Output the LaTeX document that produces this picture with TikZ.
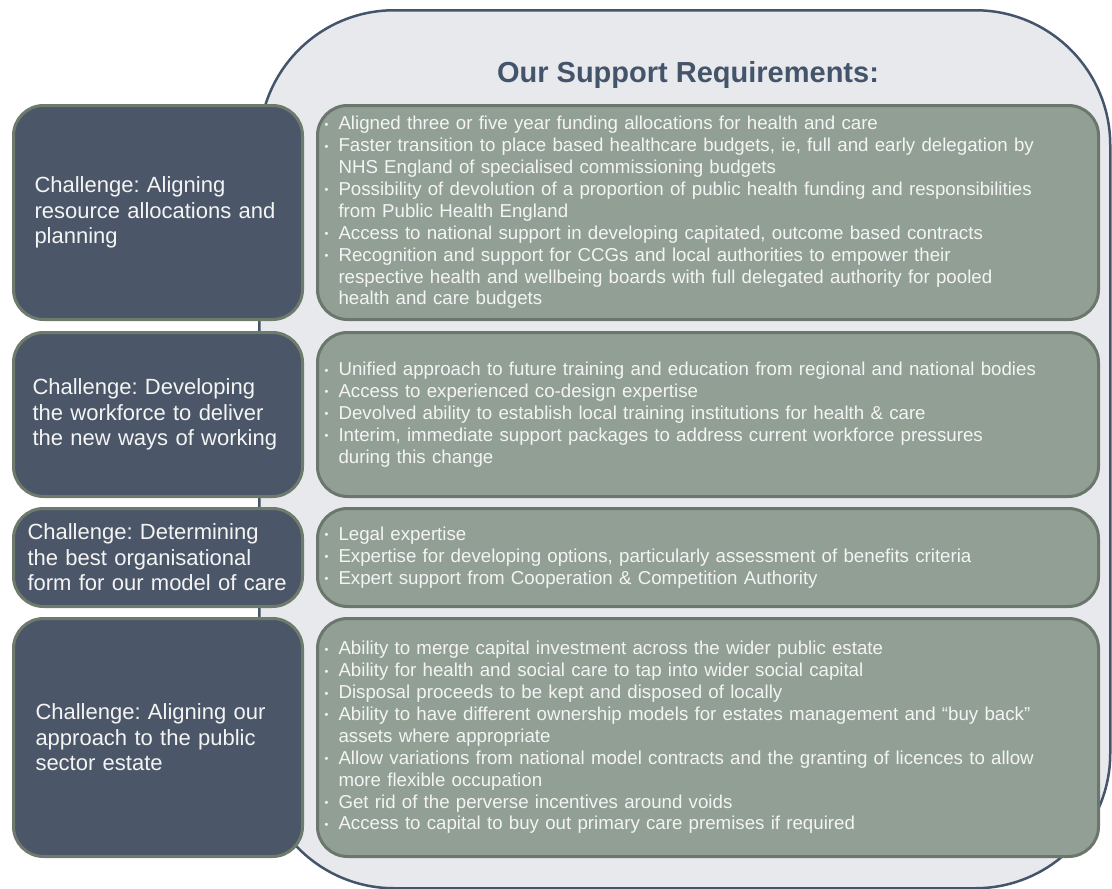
\documentclass[tikz,border=0pt]{standalone}
\usepackage{fontspec}
\setmainfont{Liberation Sans}
\frenchspacing
\definecolor{panelfill}{HTML}{E8E9ED}
\definecolor{paneldraw}{HTML}{44546A}
\definecolor{leftfill}{HTML}{4B5768}
\definecolor{leftdraw}{HTML}{6D7A6C}
\definecolor{rightfill}{HTML}{919F94}
\definecolor{rightdraw}{HTML}{6B776C}
\definecolor{txtlight}{HTML}{F4F4F4}
\newcommand\mybul{\makebox[14pt][l]{\raisebox{1.5pt}{\fontsize{11}{11}\selectfont •}}}
\newcommand\mycont{\hspace*{14pt}}
\tikzset{
  panel/.style={draw=paneldraw, fill=panelfill, line width=2.5pt, rounded corners=135pt,
    minimum width=851pt, minimum height=878pt, anchor=north west, inner sep=0pt},
  leftbox/.style={draw=leftdraw, fill=leftfill, line width=3pt, rounded corners=30pt,
    minimum width=289pt, anchor=north west, text=txtlight, align=left,
    text width=249pt, inner xsep=20pt, font=\fontsize{22}{25.5}\selectfont},
  rightbox/.style={draw=rightdraw, fill=rightfill, line width=3pt, rounded corners=30pt,
    minimum width=781pt, anchor=north west, text=txtlight, align=left,
    text width=767pt, inner xsep=7pt, font=\fontsize{18.7}{21.9}\selectfont},
  titletext/.style={text=paneldraw, font=\bfseries\fontsize{29}{32}\selectfont}
}
\begin{document}
\begin{tikzpicture}[x=1pt,y=-1pt]
\useasboundingbox (0,0) rectangle (1112,889);
\node[panel] (panel) at (258,9) {};
\node[titletext] (title) at (688,75) {Our Support Requirements:};

\node[leftbox, minimum height=214pt, inner xsep=21pt, text width=247pt] (l1) at (12,104) {Challenge: Aligning\\resource allocations and\\planning};
\node[leftbox, minimum height=164pt, inner xsep=19pt, text width=251pt] (l2) at (12,331) {Challenge: Developing\\the workforce to deliver\\the new ways of working};
\node[leftbox, minimum height=98pt, inner xsep=14pt, text width=261pt] (l3) at (12,507) {\mbox{Challenge: Determining}\\\mbox{the best organisational}\\\mbox{form for our model of care}};
\node[leftbox, minimum height=238pt, inner xsep=22pt, text width=245pt] (l4) at (12,617) {Challenge: Aligning our\\approach to the public\\sector estate};

\node[rightbox, minimum height=214pt] (r1) at (316,104) {%
\mybul Aligned three or five year funding allocations for health and care\\
\mybul Faster transition to\  place based healthcare budgets,\  ie, full\  and early delegation by\\
\mycont NHS England of specialised commissioning budgets\\
\mybul Possibility of\  devolution of a proportion of public health funding and responsibilities\\
\mycont from Public Health England\\
\mybul Access to national support in developing capitated, outcome based contracts\\
\mybul Recognition and support for CCGs and local authorities to empower their\\
\mycont respective health and wellbeing boards with full delegated authority for pooled\\
\mycont health and care budgets};

\node[rightbox, minimum height=164pt] (r2) at (316,331) {%
\mybul Unified approach to future training and education from regional and national bodies\\
\mybul Access to experienced co-design expertise\\
\mybul Devolved ability to establish local training institutions for health \& care\\
\mybul Interim, immediate support packages to address current workforce pressures\\
\mycont during this change};

\node[rightbox, minimum height=98pt] (r3) at (316,507) {%
\mybul Legal expertise\\
\mybul Expertise for developing options, particularly assessment of benefits criteria\\
\mybul Expert support from\  Cooperation \& Competition Authority};

\node[rightbox, minimum height=238pt] (r4) at (316,617) {%
\mybul Ability to\  merge capital investment across the wider public estate\\
\mybul Ability for health and social care to\  tap into wider social capital\\
\mybul Disposal proceeds to be kept and disposed of locally\\
\mybul Ability to\  have different ownership models for estates management and “buy back”\\
\mycont assets where appropriate\\
\mybul Allow variations from national model contracts and the granting of licences to allow\\
\mycont more flexible occupation\\
\mybul Get rid of the perverse incentives around voids\\
\mybul Access to capital to\  buy out primary care premises if required};
\end{tikzpicture}
\end{document}
